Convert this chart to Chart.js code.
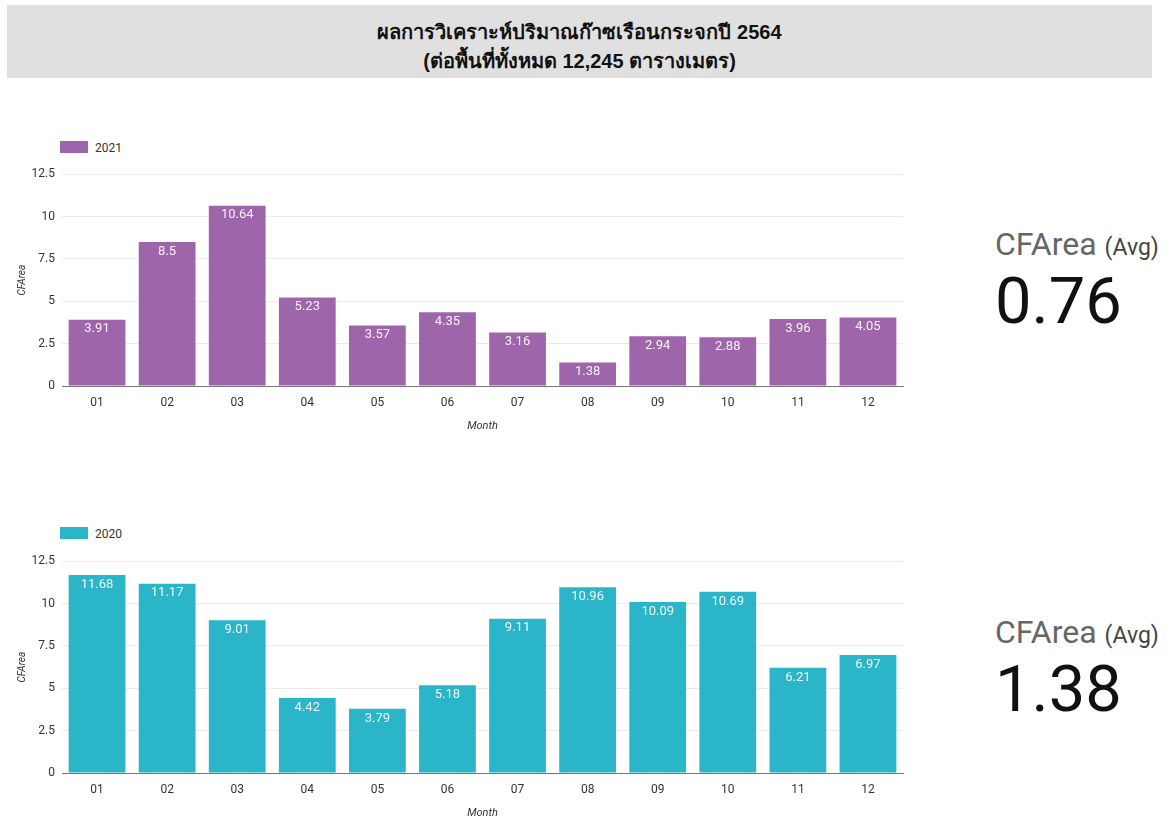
<!DOCTYPE html>
<html>
<head>
<meta charset="utf-8">
<script src="https://cdn.jsdelivr.net/npm/chart.js@4.4.0/dist/chart.umd.min.js"></script>
<style>
  body { margin: 0; background: #fff; font-family: Roboto, "Noto Sans", sans-serif; }
  .title {
    position: absolute; left: 7px; top: 5px; width: 1145px; height: 73px;
    background: #e0e0e0; text-align: center; font-weight: bold; font-size: 20px;
    line-height: 29px; padding-top: 13px; box-sizing: border-box; color: #111;
    font-family: "Liberation Sans", Arial, sans-serif;
  }
  .legend { position: absolute; font-size: 12px; color: #333; }
  .legend span.box { display: inline-block; width: 28px; height: 12px; vertical-align: -1px; margin-right: 7px; }
  .kpi { position: absolute; left: 995px; }
  .kpi .lbl { font-size: 32px; color: #666; line-height: 36px; }
  .kpi .lbl small { font-size: 23px; color: #444; }
  .kpi .val { font-size: 65px; color: #111; line-height: 70px; }
  canvas { position: absolute; }
</style>
</head>
<body>
<div class="title">ผลการวิเคราะห์ปริมาณก๊าซเรือนกระจกปี 2564<br>(ต่อพื้นที่ทั้งหมด 12,245 ตารางเมตร)</div>

<div class="legend" style="left:60px; top:141px;"><span class="box" style="background:#9e65aa"></span>2021</div>
<div class="legend" style="left:60px; top:527px;"><span class="box" style="background:#2bb5c9"></span>2020</div>

<div class="kpi" style="top:226px;"><div class="lbl">CFArea <small>(Avg)</small></div><div class="val">0.76</div></div>
<div class="kpi" style="top:614px;"><div class="lbl">CFArea <small>(Avg)</small></div><div class="val">1.38</div></div>

<canvas id="chart2021" style="left:0; top:160px;" width="910" height="277"></canvas>
<canvas id="chart2020" style="left:0; top:547px;" width="910" height="277"></canvas>

<script>
const months = ['01', '02', '03', '04', '05', '06', '07', '08', '09', '10', '11', '12'];
const values2021 = [3.91, 8.5, 10.64, 5.23, 3.57, 4.35, 3.16, 1.38, 2.94, 2.88, 3.96, 4.05];
const values2020 = [11.68, 11.17, 9.01, 4.42, 3.79, 5.18, 9.11, 10.96, 10.09, 10.69, 6.21, 6.97];

// white value text just under the top of each bar
const barValues = {
  id: 'barValues',
  afterDatasetsDraw(chart) {
    const ctx = chart.ctx;
    const meta = chart.getDatasetMeta(0);
    const data = chart.data.datasets[0].data;
    ctx.save();
    ctx.font = '13px Roboto';
    ctx.fillStyle = 'rgba(255,255,255,0.92)';
    ctx.textAlign = 'center';
    ctx.textBaseline = 'top';
    meta.data.forEach((bar, i) => {
      ctx.fillText(String(data[i]), bar.x, bar.y + 3);
    });
    ctx.restore();
  }
};

function makeChart(id, values, color) {
  const ctx = document.getElementById(id).getContext('2d');
  return new Chart(ctx, {
    type: 'bar',
    data: { labels: months, datasets: [{ data: values, backgroundColor: color, barPercentage: 0.81, categoryPercentage: 1 }] },
    options: {
      responsive: false,
      animation: false,
      layout: { padding: { top: 11, right: 7, left: 12, bottom: 0 } },
      plugins: { legend: { display: false }, tooltip: { enabled: false } },
      scales: {
        x: {
          grid: { display: false, drawTicks: false },
          border: { color: '#777', width: 1 },
          ticks: { color: '#333', font: { size: 12, family: 'Roboto' }, padding: 10 },
          title: { display: true, text: 'Month', color: '#333', font: { size: 11, style: 'italic', family: 'Roboto' } },
          afterFit(scale) { scale.height = 51; }
        },
        y: {
          min: 0, max: 12.5,
          ticks: { stepSize: 2.5, color: '#333', font: { size: 12, family: 'Roboto' }, padding: 7 },
          grid: { color: '#ebebeb', drawTicks: false },
          border: { display: false },
          title: { display: true, text: 'CFArea', color: '#333', font: { size: 10, style: 'italic', family: 'Roboto' } },
          afterFit(scale) { scale.width = 50; }
        }
      }
    },
    plugins: [barValues]
  });
}

makeChart('chart2021', values2021, '#9e65aa');
makeChart('chart2020', values2020, '#2bb5c9');
</script>
</body>
</html>
